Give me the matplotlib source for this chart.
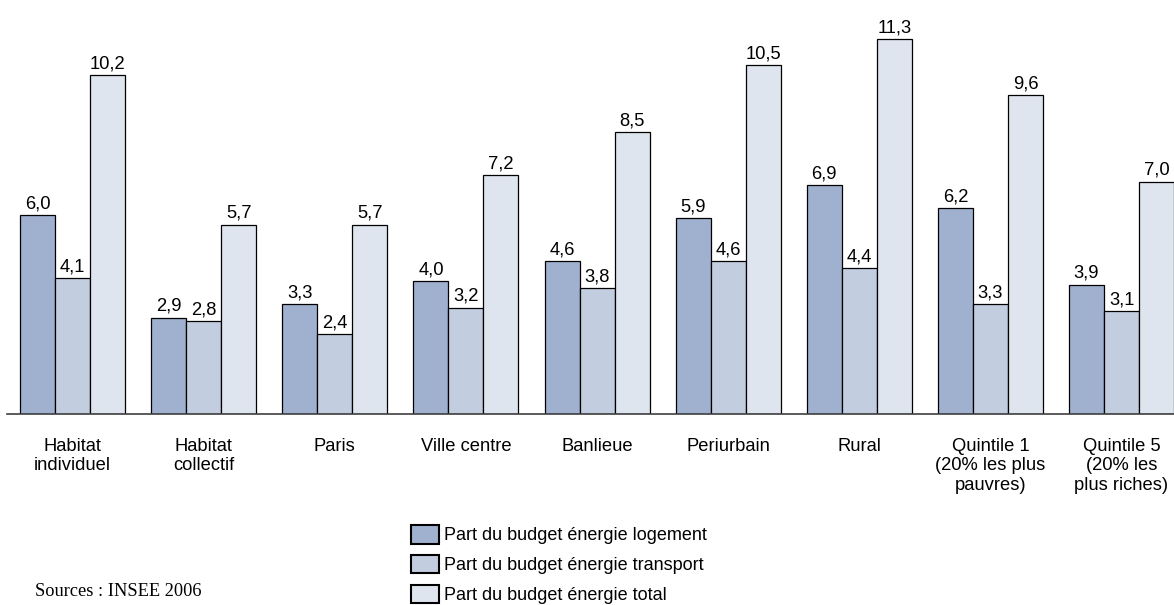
import matplotlib
matplotlib.use("Agg")
import matplotlib.pyplot as plt
import numpy as np
from matplotlib.patches import Patch

categories = ["Habitat\nindividuel", "Habitat\ncollectif", "Paris", "Ville centre", "Banlieue",
              "Periurbain", "Rural", "Quintile 1\n(20% les plus\npauvres)", "Quintile 5\n(20% les\nplus riches)"]
logement = [6.0, 2.9, 3.3, 4.0, 4.6, 5.9, 6.9, 6.2, 3.9]
transport = [4.1, 2.8, 2.4, 3.2, 3.8, 4.6, 4.4, 3.3, 3.1]
total = [10.2, 5.7, 5.7, 7.2, 8.5, 10.5, 11.3, 9.6, 7.0]
series_names = ["Part du budget énergie logement", "Part du budget énergie transport",
                "Part du budget énergie total"]
colors = ["#9FB1CE", "#C3CDE0", "#DFE5EE"]

plt.rcParams['font.family'] = ['Liberation Sans', 'DejaVu Sans']

W, H = 1174, 605
fig = plt.figure(figsize=(W / 100, H / 100), dpi=100)
ax = fig.add_axes([7 / W, (H - 414) / H, 1 - 7 / W, 414 / H])

x = np.arange(len(categories))
bw = 0.267
for k, (vals, c) in enumerate(zip([logement, transport, total], colors)):
    pos = x + (k - 1) * bw
    ax.bar(pos, vals, width=bw, color=c, edgecolor="black", linewidth=0.9, zorder=2)
    for xp, v in zip(pos, vals):
        ax.annotate(f"{v:.1f}".replace(".", ","), (xp, v), xytext=(0, 2),
                    textcoords="offset points", ha="center", va="bottom",
                    fontsize=13.2, color="black")

ax.set_xlim(-0.5, 8.4)
ax.set_ylim(0, 12.47)
for s in ["left", "right", "top"]:
    ax.spines[s].set_visible(False)
ax.spines["bottom"].set_color("#404040")
ax.spines["bottom"].set_linewidth(1.2)
ax.set_yticks([])
ax.set_xticks(x)
ax.set_xticklabels(categories, fontsize=13.2, linespacing=1.22)
ax.tick_params(axis="x", length=0, pad=17)

handles = [Patch(facecolor=c, edgecolor="black", linewidth=1.5) for c in colors]
fig.legend(handles, series_names, loc="upper left", bbox_to_anchor=(411 / W, 1 - 525 / H),
           frameon=False, fontsize=13, handlelength=1.55, handleheight=1.2,
           handletextpad=0.3, labelspacing=0.58, borderpad=0, borderaxespad=0)

fig.text(35 / W, 1 - 592 / H, "Sources : INSEE 2006", family="Liberation Serif",
         fontsize=13.2, va="center", ha="left")

fig.savefig("out.png", dpi=100)
